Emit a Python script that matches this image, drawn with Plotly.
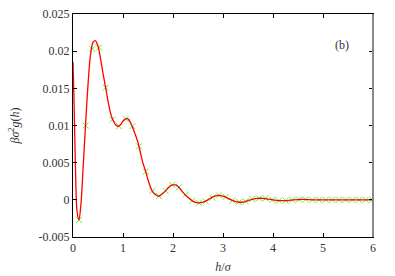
import plotly.graph_objects as go

# red curve (smooth line)
curve_h = [0, 0.02, 0.05, 0.08, 0.12, 0.16, 0.2, 0.25, 0.3, 0.35, 0.4, 0.45, 0.5, 0.55,
           0.6, 0.65, 0.7, 0.75, 0.8, 0.85, 0.9, 0.95, 1.0, 1.05, 1.1, 1.15, 1.2, 1.25,
           1.3, 1.35, 1.4, 1.45, 1.5, 1.55, 1.6, 1.65, 1.7, 1.75, 1.8, 1.85, 1.9, 1.95,
           2.0, 2.05, 2.1, 2.15, 2.2, 2.3, 2.4, 2.5, 2.6, 2.7, 2.8, 2.9, 3.0, 3.1, 3.2,
           3.3, 3.4, 3.5, 3.6, 3.7, 3.8, 3.9, 4.0, 4.1, 4.2, 4.3, 4.4, 4.6, 4.8, 5.0,
           5.5, 6.0]
curve_g = [0.0185, 0.0135, 0.0040, -0.0015, -0.0027, -0.0005, 0.0040, 0.0100, 0.0155,
           0.0195, 0.0212, 0.0214, 0.0207, 0.0190, 0.0170, 0.0152, 0.0133, 0.0117,
           0.0107, 0.0101, 0.0099, 0.0101, 0.0106, 0.0109, 0.0109, 0.0104, 0.0096,
           0.0087, 0.0077, 0.0063, 0.0049, 0.0039, 0.0027, 0.0017, 0.0010, 0.0007,
           0.0005, 0.0006, 0.0009, 0.0012, 0.0016, 0.0019, 0.0020, 0.0020, 0.0018,
           0.0014, 0.0010, 0.0003, -0.0002, -0.0004, -0.0003, 0.0000, 0.0004, 0.0006,
           0.0005, 0.0002, -0.0001, -0.0003, -0.0003, -0.0001, 0.0001, 0.0002, 0.0002,
           0.0001, 0.0000, -0.0001, -0.0001, -0.0001, 0.0000, 0.00005, 0.0000, 0.0000,
           0.0000, 0.0000]

# green sample points
pts_h = [0.12, 0.253, 0.387, 0.52, 0.653, 0.787, 0.92, 1.053, 1.187, 1.32, 1.453, 1.587,
         1.72, 1.853, 1.987, 2.12, 2.253, 2.387, 2.52, 2.653, 2.787, 2.92, 3.053, 3.187,
         3.32, 3.453, 3.587, 3.72, 3.853, 3.987, 4.12, 4.253, 4.387, 4.52, 4.653, 4.787,
         4.92, 5.053, 5.187, 5.32, 5.453, 5.587, 5.72, 5.853, 5.987]
pts_g = [-0.0027, 0.0100, 0.0203, 0.0205, 0.0151, 0.0108, 0.0099, 0.0109, 0.0099,
         0.0072, 0.0038, 0.0012, 0.0005, 0.0012, 0.0020, 0.0017, 0.0007, -0.0001,
         -0.0004, -0.0002, 0.0003, 0.0006, 0.0004, -0.0001, -0.0003, -0.0002, 0.0001,
         0.0002, 0.0002, 0.0000, -0.0001, -0.0001, 0.0000, 0.00005, 0.00005, 0.0000,
         0.0000, 0.0000, 0.0000, 0.0000, 0.0000, 0.0000, 0.0000, 0.0000, 0.0000]

x_ticks = [0, 1, 2, 3, 4, 5, 6]
y_ticks = [-0.005, 0, 0.005, 0.01, 0.015, 0.02, 0.025]
y_labels = ["-0.005", "0", "0.005", "0.01", "0.015", "0.02", "0.025"]

font_family = "Liberation Serif, DejaVu Serif, serif"

fig = go.Figure()
fig.add_trace(go.Scatter(x=pts_h, y=pts_g, mode="markers",
                         marker=dict(symbol="x-thin", size=6, color="#66ee33",
                                     line=dict(width=1, color="#66ee33")),
                         showlegend=False))
fig.add_trace(go.Scatter(x=curve_h, y=curve_g, mode="lines",
                         line=dict(color="#ff0000", width=1.3, shape="spline", smoothing=0.8),
                         showlegend=False))

axis_common = dict(showgrid=False, zeroline=False, showline=True, linecolor="black",
                   linewidth=1, mirror="allticks", ticks="inside", ticklen=4,
                   tickcolor="black", automargin=False,
                   tickfont=dict(family=font_family, size=12, color="#333"))

fig.update_xaxes(range=[0, 6], tickvals=x_ticks, ticktext=[str(v) for v in x_ticks],
                 title=dict(text="<i>h</i>/<i>σ</i>", standoff=8,
                            font=dict(family=font_family, size=12, color="#333")),
                 **axis_common)
fig.update_yaxes(range=[-0.005, 0.025], tickvals=y_ticks, ticktext=y_labels,
                 title=dict(text="<i>βσ</i><sup>2</sup><i>g</i>(<i>h</i>)", standoff=16,
                            font=dict(family=font_family, size=12, color="#333")),
                 **axis_common)

fig.add_annotation(x=0.925, y=0.9, xref="paper", yref="paper", text="(b)",
                   showarrow=False, font=dict(family=font_family, size=12, color="#333"))

# slightly heavier grey right border, as in the reference
fig.add_shape(type="line", xref="paper", yref="paper", x0=1, x1=1, y0=0, y1=1,
              line=dict(color="#888888", width=2))

fig.update_layout(width=395, height=276, margin=dict(l=73, r=22, t=14, b=39, autoexpand=False),
                  plot_bgcolor="white", paper_bgcolor="white")

fig.write_html("out.html", config={"displayModeBar": False},
               post_script="document.body.style.margin='0';document.body.style.overflow='hidden';")
